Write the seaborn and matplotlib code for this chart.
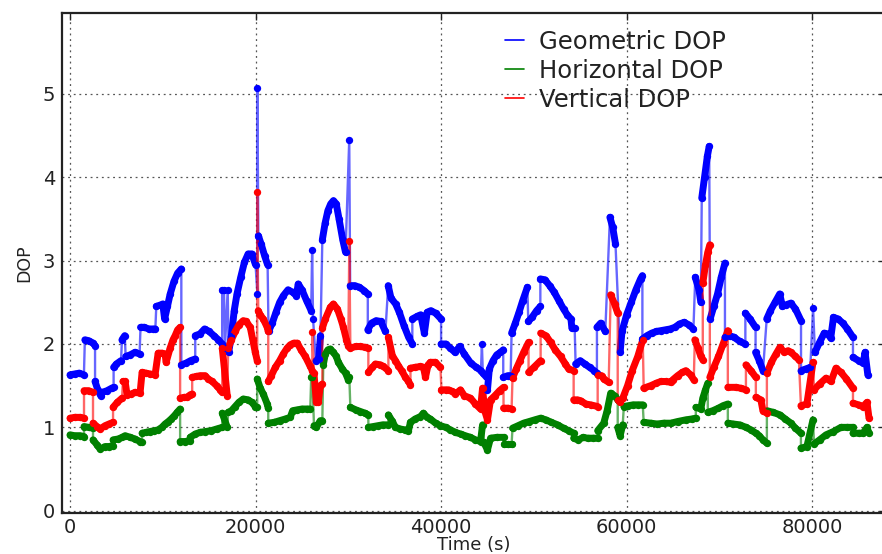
import numpy as np
import pandas as pd
import matplotlib
matplotlib.use("Agg")
import matplotlib.pyplot as plt
from matplotlib.lines import Line2D
import seaborn as sns

# ---------------- data (time in ks, DOP value) ----------------
gdop_t = [0, 0.5, 1.0, 1.5, 1.6, 2.0, 2.5, 2.7, 2.7, 3.0, 3.3, 3.5, 4.0, 4.5, 4.7, 4.7, 5.0, 5.5, 5.6, 5.9,
          6.0, 6.5, 7.0, 7.5, 7.6, 8.0, 8.5, 9.0, 9.2, 9.3, 9.8, 10.0, 10.2, 10.5, 10.8, 11.2, 11.6, 12.0, 12.0,
          12.5, 13.0, 13.5, 13.5, 14.0, 14.5, 15.0, 15.5, 16.0, 16.4, 16.4, 16.6, 16.7, 17.0, 17.1, 17.4, 17.7,
          18.0, 18.4, 18.8, 19.2, 19.6, 20.0, 20.2, 20.2, 20.3, 20.6, 21.0, 21.3, 21.4, 21.8, 22.2, 22.6, 23.0,
          23.5, 24.0, 24.4, 24.6, 25.0, 25.5, 26.0, 26.1, 26.2, 26.5, 26.8, 27.0, 27.2, 27.5, 27.8, 28.1, 28.4,
          28.7, 29.0, 29.4, 29.7, 30.1, 30.2, 30.7, 31.2, 31.7, 32.1, 32.1, 32.5, 33.0, 33.5, 34.0, 34.3, 34.6,
          35.1, 35.5, 36.0, 36.5, 36.9, 36.9, 37.4, 37.8, 38.2, 38.5, 38.9, 39.4, 40.0, 40.0, 40.5, 41.0, 41.5,
          42.0, 42.5, 43.2, 43.8, 44.3, 44.4, 44.5, 44.9, 45.0, 45.2, 45.6, 46.0, 46.4, 46.7, 46.7, 47.2, 47.5,
          47.6, 48.0, 48.4, 48.8, 49.3, 49.4, 49.8, 50.3, 50.7, 50.7, 51.2, 51.7, 52.2, 52.7, 53.2, 53.6, 54.0,
          54.1, 54.4, 54.5, 55.0, 55.5, 56.0, 56.5, 56.8, 56.8, 57.2, 57.7, 58.2, 58.5, 58.8, 59.3, 59.5, 60.0,
          60.5, 61.0, 61.5, 61.7, 61.7, 62.2, 62.7, 63.2, 63.7, 64.2, 64.7, 65.2, 65.7, 66.2, 66.7, 67.2, 67.4,
          67.8, 68.0, 68.1, 68.4, 68.7, 68.9, 69.0, 69.4, 69.8, 70.2, 70.6, 70.6, 71.1, 71.6, 72.2, 72.8, 72.8,
          73.3, 73.9, 73.9, 74.3, 74.7, 75.1, 75.5, 76.0, 76.5, 76.8, 77.2, 77.7, 78.2, 78.8, 78.8, 79.3, 79.8,
          80.1, 80.3, 80.8, 81.3, 81.7, 82.0, 82.3, 82.8, 83.3, 83.8, 84.4, 84.4, 85.0, 85.5, 85.7, 86.0]
gdop_v = [1.63, 1.64, 1.65, 1.63, 2.05, 2.04, 2.01, 1.98, 1.55, 1.45, 1.38, 1.42, 1.44, 1.47, 1.48, 1.72, 1.76,
          1.8, 2.05, 2.1, 1.85, 1.87, 1.9, 1.88, 2.2, 2.2, 2.18, 2.18, 2.18, 2.45, 2.47, 2.48, 2.3, 2.45, 2.6,
          2.75, 2.85, 2.9, 1.75, 1.77, 1.8, 1.82, 2.1, 2.12, 2.18, 2.15, 2.1, 2.05, 2.0, 2.65, 2.65, 1.95, 2.65,
          1.9, 2.1, 2.4, 2.6, 2.8, 2.98, 3.08, 3.08, 2.95, 2.6, 5.07, 3.3, 3.2, 3.05, 2.95, 2.15, 2.25, 2.38,
          2.5, 2.58, 2.65, 2.62, 2.58, 2.72, 2.65, 2.52, 2.4, 3.13, 2.3, 1.8, 1.82, 2.1, 3.25, 3.45, 3.6, 3.68,
          3.72, 3.68, 3.5, 3.25, 3.1, 4.45, 2.7, 2.7, 2.68, 2.64, 2.6, 2.17, 2.25, 2.28, 2.27, 2.15, 2.7, 2.55,
          2.48, 2.38, 2.22, 2.08, 2.0, 2.3, 2.33, 2.35, 2.13, 2.38, 2.4, 2.37, 2.3, 2.0, 2.0, 1.95, 1.9, 1.97,
          1.88, 1.77, 1.72, 1.68, 2.0, 1.65, 1.6, 1.45, 1.7, 1.8, 1.87, 1.9, 1.93, 1.6, 1.62, 1.62, 2.13, 2.25,
          2.38, 2.52, 2.68, 2.27, 2.32, 2.4, 2.45, 2.78, 2.77, 2.7, 2.62, 2.52, 2.42, 2.35, 2.3, 2.19, 2.19,
          1.76, 1.8, 1.76, 1.72, 1.68, 1.65, 2.2, 2.25, 2.15, 3.52, 3.4, 3.2, 1.9, 2.15, 2.35, 2.5, 2.65, 2.78,
          2.82, 2.06, 2.1, 2.13, 2.15, 2.16, 2.17, 2.18, 2.2, 2.24, 2.26, 2.23, 2.18, 2.8, 2.65, 2.5, 3.75, 4.0,
          4.25, 4.37, 2.3, 2.45, 2.6, 2.8, 2.97, 2.08, 2.1, 2.08, 2.03, 2.0, 2.37, 2.3, 2.2, 1.9, 1.8, 1.68,
          2.3, 2.4, 2.5, 2.6, 2.45, 2.47, 2.49, 2.42, 2.28, 1.68, 1.7, 1.72, 2.43, 1.9, 2.02, 2.13, 2.12, 2.07,
          2.32, 2.3, 2.25, 2.18, 2.08, 1.84, 1.8, 1.77, 1.9, 1.63]

hdop_t = [0, 0.5, 1.08, 1.51, 1.51, 2.0, 2.48, 2.48, 2.91, 3.24, 3.78, 4.2, 4.64, 4.64, 5.18, 5.61, 5.94, 6.5,
          7.01, 7.55, 7.77, 7.77, 8.2, 8.63, 9.1, 9.5, 9.9, 10.25, 10.6, 10.9, 11.25, 11.55, 11.87, 11.87, 12.4,
          12.95, 12.95, 13.5, 14.03, 14.6, 15.2, 15.8, 16.41, 16.41, 16.95, 17.05, 17.4, 17.8, 18.2, 18.67,
          19.21, 19.6, 19.97, 20.18, 20.18, 20.51, 20.83, 21.26, 21.37, 21.37, 22.0, 22.6, 23.2, 23.74, 24.0,
          24.5, 25.0, 25.5, 25.9, 26.0, 26.12, 26.3, 26.55, 26.98, 27.2, 27.3, 27.52, 27.8, 28.06, 28.39, 28.7,
          28.93, 29.36, 29.7, 30.0, 30.11, 30.22, 30.8, 31.3, 31.8, 32.16, 32.16, 32.7, 33.2, 33.7, 34.32,
          34.32, 34.7, 35.08, 35.6, 36.1, 36.48, 36.7, 37.2, 37.78, 38.1, 38.5, 38.85, 39.4, 39.93, 40.5, 41.0,
          41.55, 42.1, 42.6, 43.17, 43.71, 44.25, 44.47, 44.6, 45.0, 45.33, 46.0, 46.73, 46.73, 47.2, 47.6,
          47.7, 48.3, 48.89, 49.5, 50.1, 50.73, 51.3, 51.9, 52.56, 53.2, 53.75, 54.29, 54.29, 54.8, 55.3, 55.8,
          56.4, 56.88, 56.88, 57.53, 57.9, 58.28, 58.7, 59.04, 59.04, 59.3, 59.58, 59.7, 60.2, 60.7, 61.2,
          61.74, 61.84, 62.6, 63.3, 64.0, 64.76, 65.5, 66.38, 67.0, 67.46, 67.46, 68.0, 68.21, 68.5, 68.75,
          68.75, 69.3, 69.9, 70.4, 70.91, 70.91, 71.5, 72.2, 72.86, 73.4, 73.93, 74.3, 74.69, 75.12, 75.12,
          75.8, 76.52, 77.1, 77.71, 78.2, 78.79, 78.79, 79.43, 80.09, 80.2, 80.8, 81.49, 82.3, 83.1, 83.8,
          84.4, 84.4, 85.0, 85.48, 85.91, 86.13]
hdop_v = [0.91, 0.9, 0.9, 0.89, 1.01, 1.0, 0.99, 0.85, 0.79, 0.74, 0.77, 0.77, 0.78, 0.85, 0.86, 0.88, 0.9,
          0.88, 0.86, 0.83, 0.82, 0.93, 0.94, 0.95, 0.96, 0.97, 1.0, 1.04, 1.07, 1.1, 1.14, 1.18, 1.22, 0.83,
          0.83, 0.84, 0.88, 0.92, 0.94, 0.95, 0.96, 0.98, 1.0, 1.17, 1.0, 1.18, 1.2, 1.25, 1.3, 1.34, 1.33,
          1.3, 1.25, 1.24, 1.58, 1.47, 1.4, 1.28, 1.23, 1.05, 1.06, 1.08, 1.1, 1.12, 1.2, 1.21, 1.22, 1.22,
          1.22, 1.6, 1.6, 1.02, 1.0, 1.08, 1.08, 1.75, 1.88, 1.93, 1.94, 1.9, 1.85, 1.78, 1.7, 1.65, 1.57, 1.6,
          1.24, 1.21, 1.19, 1.17, 1.15, 1.0, 1.01, 1.02, 1.03, 1.03, 1.15, 1.08, 1.0, 0.98, 0.97, 0.96, 1.06,
          1.1, 1.13, 1.17, 1.12, 1.1, 1.05, 1.02, 1.0, 0.97, 0.94, 0.92, 0.9, 0.88, 0.85, 0.83, 1.03, 0.82,
          0.73, 0.87, 0.88, 0.88, 0.8, 0.8, 0.8, 0.99, 1.02, 1.05, 1.07, 1.09, 1.11, 1.09, 1.06, 1.03, 0.99,
          0.96, 0.93, 0.87, 0.85, 0.88, 0.87, 0.87, 0.87, 0.96, 1.05, 1.2, 1.41, 1.38, 1.33, 1.0, 0.9, 1.03,
          1.25, 1.26, 1.27, 1.27, 1.27, 1.06, 1.05, 1.04, 1.05, 1.05, 1.07, 1.09, 1.1, 1.11, 1.24, 1.22, 1.35,
          1.45, 1.53, 1.18, 1.2, 1.23, 1.26, 1.28, 1.05, 1.04, 1.03, 1.0, 0.97, 0.93, 0.9, 0.85, 0.81, 1.2,
          1.18, 1.15, 1.1, 1.05, 0.99, 0.93, 0.75, 0.77, 1.09, 0.8, 0.85, 0.91, 0.95, 1.0, 1.0, 1.0, 0.93,
          0.93, 0.93, 1.0, 0.93]

vdop_t = [0, 0.5, 1.08, 1.51, 1.51, 2.0, 2.48, 2.48, 2.91, 3.24, 3.78, 4.2, 4.64, 4.64, 5.1, 5.61, 5.7, 5.94,
          6.15, 6.6, 7.01, 7.55, 7.77, 8.2, 8.63, 9.17, 9.5, 9.9, 10.25, 10.36, 10.79, 11.1, 11.33, 11.6, 11.87,
          11.87, 12.3, 12.63, 12.95, 13.17, 13.17, 13.6, 14.03, 14.57, 14.9, 15.33, 15.8, 16.19, 16.41, 16.41,
          16.95, 17.05, 17.4, 17.81, 18.2, 18.67, 19.0, 19.43, 19.7, 19.97, 20.18, 20.18, 20.29, 20.5, 20.83,
          21.26, 21.37, 21.37, 21.7, 22.13, 22.6, 22.99, 23.4, 23.74, 24.1, 24.5, 24.9, 25.36, 25.9, 26.12,
          26.12, 26.3, 26.55, 26.77, 26.98, 27.2, 27.2, 27.52, 28.06, 28.39, 28.82, 29.2, 29.47, 29.8, 30.0,
          30.11, 30.22, 30.8, 31.3, 31.8, 32.16, 32.16, 32.6, 32.92, 33.46, 33.78, 34.32, 34.32, 34.75, 35.08,
          35.4, 35.8, 36.16, 36.48, 36.7, 36.7, 37.2, 37.78, 38.1, 38.32, 38.6, 38.85, 39.39, 39.93, 40.04,
          40.5, 40.8, 41.2, 41.55, 42.09, 42.5, 43.17, 43.71, 44.25, 44.47, 44.7, 45.0, 45.33, 45.8, 46.3,
          46.73, 46.73, 47.2, 47.6, 47.7, 48.1, 48.5, 48.9, 49.43, 49.43, 50.0, 50.73, 50.73, 51.3, 51.81,
          52.3, 52.88, 53.4, 53.75, 54.29, 54.29, 54.7, 55.04, 55.6, 56.12, 56.88, 56.88, 57.3, 57.53, 58.07,
          58.28, 58.7, 59.04, 59.04, 59.3, 59.58, 60.1, 60.6, 61.2, 61.74, 61.84, 62.6, 63.2, 63.68, 64.2,
          64.76, 64.97, 65.5, 66.0, 66.38, 66.9, 67.24, 67.35, 67.7, 68.0, 68.21, 68.21, 68.5, 68.75, 68.97,
          68.97, 69.4, 69.9, 70.4, 70.91, 70.91, 71.77, 72.3, 72.86, 72.86, 73.4, 73.93, 73.93, 74.47, 74.69,
          75.12, 75.12, 75.6, 76.1, 76.52, 77.0, 77.4, 77.71, 78.2, 78.57, 78.79, 79.43, 80.09, 80.2, 80.8,
          81.49, 82.03, 82.56, 83.1, 83.7, 84.4, 84.4, 85.0, 85.48, 85.91, 86.13]
vdop_v = [1.11, 1.12, 1.12, 1.11, 1.44, 1.44, 1.42, 1.05, 1.01, 0.98, 1.02, 1.04, 1.06, 1.24, 1.3, 1.35, 1.55,
          1.55, 1.39, 1.4, 1.42, 1.41, 1.66, 1.65, 1.64, 1.63, 1.89, 1.89, 1.88, 1.78, 1.95, 2.05, 2.1, 2.17,
          2.2, 1.35, 1.36, 1.36, 1.39, 1.4, 1.6, 1.61, 1.62, 1.62, 1.58, 1.55, 1.5, 1.45, 1.42, 1.95, 1.38,
          1.95, 2.05, 2.15, 2.23, 2.28, 2.27, 2.2, 2.05, 1.9, 1.8, 3.82, 2.4, 2.35, 2.3, 2.2, 2.15, 1.55, 1.62,
          1.72, 1.8, 1.88, 1.95, 1.99, 2.01, 2.01, 1.93, 1.85, 1.73, 1.68, 2.14, 1.65, 1.3, 1.3, 1.5, 1.52,
          2.19, 2.3, 2.44, 2.48, 2.42, 2.3, 2.2, 2.05, 1.98, 3.23, 1.95, 1.97, 1.97, 1.96, 1.95, 1.66, 1.72,
          1.76, 1.75, 1.73, 1.68, 2.08, 1.86, 1.8, 1.74, 1.67, 1.6, 1.55, 1.51, 1.71, 1.72, 1.73, 1.72, 1.6,
          1.75, 1.78, 1.78, 1.72, 1.45, 1.45, 1.45, 1.43, 1.4, 1.45, 1.38, 1.35, 1.28, 1.22, 1.47, 1.2, 1.09,
          1.33, 1.38, 1.44, 1.48, 1.23, 1.23, 1.22, 1.59, 1.7, 1.8, 1.9, 2.02, 1.66, 1.72, 1.8, 2.13, 2.1,
          2.02, 1.93, 1.85, 1.76, 1.7, 1.68, 1.33, 1.33, 1.32, 1.28, 1.27, 1.25, 1.63, 1.62, 1.58, 1.54, 2.59,
          2.48, 2.37, 1.33, 1.3, 1.35, 1.5, 1.68, 1.85, 2.05, 1.47, 1.5, 1.53, 1.55, 1.55, 1.54, 1.57, 1.62,
          1.66, 1.68, 1.63, 1.57, 2.05, 1.95, 1.85, 1.81, 2.73, 2.95, 3.1, 3.19, 1.6, 1.72, 1.85, 2.0, 2.16,
          1.48, 1.48, 1.47, 1.45, 1.75, 1.68, 1.6, 1.36, 1.33, 1.2, 1.17, 1.65, 1.78, 1.88, 1.96, 1.9, 1.92,
          1.9, 1.85, 1.81, 1.26, 1.28, 1.78, 1.45, 1.52, 1.59, 1.55, 1.71, 1.66, 1.58, 1.47, 1.29, 1.27, 1.25,
          1.3, 1.11]

series_names = ["Geometric DOP", "Horizontal DOP", "Vertical DOP"]
series_colors = ["#0000ff", "#008000", "#ff0000"]
x_ticks = [0, 20000, 40000, 60000, 80000]
y_ticks = [0, 1, 2, 3, 4, 5]

frames = []
for name, ts, vs in zip(series_names, [gdop_t, hdop_t, vdop_t], [gdop_v, hdop_v, vdop_v]):
    t = np.array(ts) * 1000.0
    v = np.array(vs, dtype=float)
    # a new continuous pass starts wherever the value jumps (vertical connector)
    dt = np.diff(t)
    dv = np.abs(np.diff(v))
    jump = (dt < 50) | (dv / np.maximum(dt, 1) > 1.5e-3)
    seg = np.concatenate([[0], np.cumsum(jump)])
    frames.append(pd.DataFrame({"Time": t, "DOP": v, "series": name, "seg": seg}))
df = pd.concat(frames, ignore_index=True)

sns.set_theme(style="white")
plt.rcParams["font.family"] = ["DejaVu Sans"]

fig = plt.figure(figsize=(8.82, 5.54), dpi=100)
ax = fig.add_axes([62 / 882, (554 - 513.3) / 554, (886 - 62) / 882, (513.3 - 13) / 554])

palette = dict(zip(series_names, series_colors))
for name in series_names:
    sub = df[df["series"] == name]
    # thin, lighter connecting line through all samples
    sns.lineplot(data=sub, x="Time", y="DOP", color=palette[name], estimator=None, sort=False,
                 linewidth=1.7, alpha=0.6, ax=ax, legend=False)
    # dense sample trail of each continuous pass
    for _, part in sub.groupby("seg"):
        if len(part) > 1:
            sns.lineplot(data=part, x="Time", y="DOP", color=palette[name], estimator=None,
                         sort=False, linewidth=5.0, ax=ax, legend=False,
                         solid_capstyle="round", solid_joinstyle="round")
    sns.scatterplot(data=sub, x="Time", y="DOP", color=palette[name], s=28, linewidth=0,
                    ax=ax, legend=False, zorder=3)

ax.set_xlim(-863, 87960)
ax.set_ylim(-0.031, 5.97)
ax.set_xticks(x_ticks)
ax.set_yticks(y_ticks)
ax.set_xticklabels([str(v) for v in x_ticks])
ax.set_yticklabels([str(v) for v in y_ticks])
ax.tick_params(axis="both", direction="in", length=5, width=1, colors="#222222",
               labelsize=14, top=True, right=True, pad=5)
ax.tick_params(axis="x", pad=3.5)
ax.grid(True, linestyle=(0, (1.5, 3)), color="#555555", linewidth=0.9)
for sp in ax.spines.values():
    sp.set_color("#222222")
    sp.set_linewidth(1.6)

ax.set_xlabel("Time (s)", fontsize=13, color="#222222", labelpad=-1)
ax.set_ylabel("DOP", fontsize=12.5, color="#222222", labelpad=7)

handles = [Line2D([], [], color=c, linewidth=1.2) for c in series_colors]
leg = ax.legend(handles, series_names, loc="upper left", bbox_to_anchor=(505 / 882, 1 - 30 / 554),
                bbox_transform=fig.transFigure, frameon=False, fontsize=17.5,
                handlelength=0.8, handletextpad=0.6, labelspacing=0.2, borderaxespad=0, borderpad=0)
for t in leg.get_texts():
    t.set_color("#222222")

fig.savefig("out.png", dpi=100)
